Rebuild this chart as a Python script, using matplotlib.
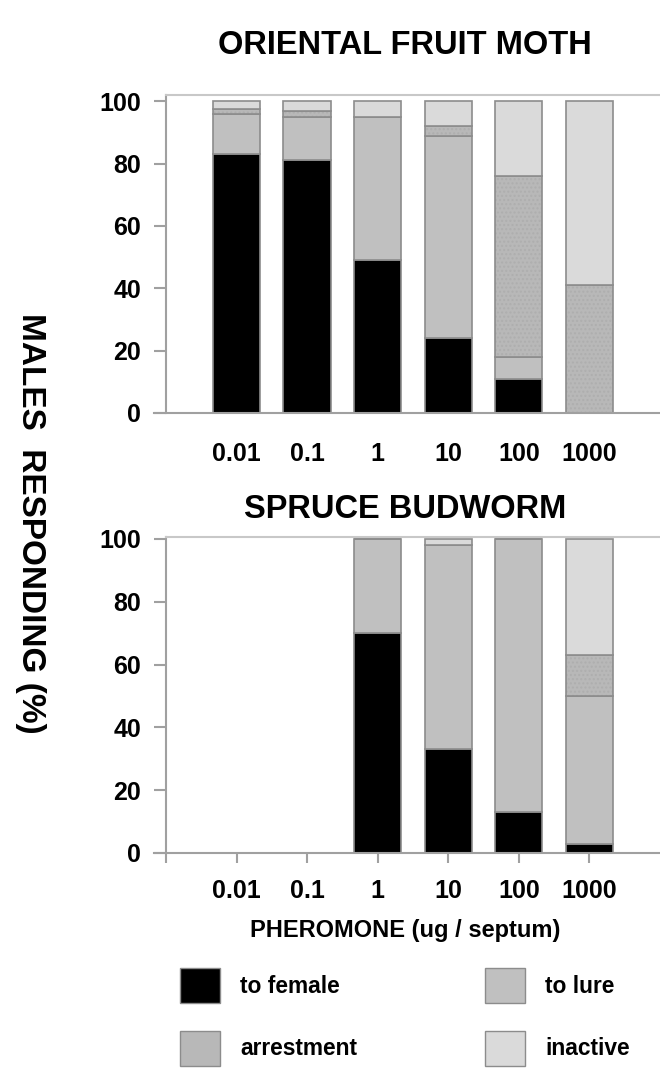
import matplotlib
matplotlib.use("Agg")
import matplotlib.pyplot as plt
from matplotlib.patches import Patch
import numpy as np

plt.rcParams['font.family'] = ['Liberation Sans', 'DejaVu Sans']
plt.rcParams['font.weight'] = 'bold'

doses = ['0.01', '0.1', '1', '10', '100', '1000']

# oriental fruit moth (%)
ofm_female = [83, 81, 49, 24, 11, 0]
ofm_lure = [13, 14, 46, 65, 7, 0]
ofm_arrest = [1.5, 2, 0, 3, 58, 41]
ofm_inactive = [2.5, 3, 5, 8, 24, 59]

# spruce budworm (%)
sbw_female = [0, 0, 70, 33, 13, 3]
sbw_lure = [0, 0, 30, 65, 87, 47]
sbw_arrest = [0, 0, 0, 0, 0, 13]
sbw_inactive = [0, 0, 0, 2, 0, 37]

c_female = 'black'
c_lure = '#c0c0c0'
c_arrest = '#b8b8b8'
c_inactive = '#dadada'
c_edge = '#8c8c8c'
c_axis = '#a0a0a0'


def stacked(ax, female, lure, arrest, inactive):
    x = np.arange(1, len(doses) + 1)
    w = 0.67
    b = np.zeros(len(doses))
    for vals, col in [(female, c_female), (lure, c_lure),
                      (arrest, c_arrest), (inactive, c_inactive)]:
        vals = np.array(vals, dtype=float)
        if col == c_arrest:
            # faint stipple texture like the scanned fill
            ax.bar(x, vals, w, bottom=b, color=col, edgecolor='#aeaeae',
                   hatch='....', linewidth=0)
            ax.bar(x, vals, w, bottom=b, fill=False, edgecolor=c_edge,
                   linewidth=1.2)
        else:
            ax.bar(x, vals, w, bottom=b, color=col, edgecolor=c_edge,
                   linewidth=1.2)
        b = b + vals


def style(ax, ytop, xticks):
    ax.set_xlim(-0.17, 7.0)
    ax.set_ylim(0, ytop)
    ax.spines['left'].set_position(('data', 0))
    ax.spines['right'].set_visible(False)
    ax.spines['top'].set_bounds(0, 7.0)
    for s in ['left', 'bottom', 'top']:
        ax.spines[s].set_color(c_axis)
        ax.spines[s].set_linewidth(1.5)
    ax.spines['top'].set_color('#c8c8c8')
    ax.set_yticks([0, 20, 40, 60, 80, 100])
    ax.tick_params(axis='y', length=9, width=1.5, color=c_axis, pad=9,
                   labelsize=18)
    if xticks:
        ax.set_xticks(np.arange(0, 7))
        ax.set_xticklabels([''] + doses)
        ax.tick_params(axis='x', length=7, width=1.5, color=c_axis, pad=12,
                       labelsize=18)
    else:
        ax.set_xticks(np.arange(1, 7))
        ax.set_xticklabels(doses)
        ax.tick_params(axis='x', length=0, pad=21, labelsize=18)


fig = plt.figure(figsize=(6.6, 10.68), dpi=100)
W, H = 660.0, 1068.0

ax1 = fig.add_axes([154 / W, 1 - 413 / H, 506 / W, 318 / H])
stacked(ax1, ofm_female, ofm_lure, ofm_arrest, ofm_inactive)
style(ax1, 102, False)

ax2 = fig.add_axes([154 / W, 1 - 853 / H, 506 / W, 316 / H])
stacked(ax2, sbw_female, sbw_lure, sbw_arrest, sbw_inactive)
style(ax2, 100.6, True)

fig.text(405 / W, 1 - 45 / H, 'ORIENTAL FRUIT MOTH', ha='center',
         va='center', fontsize=23.5)
fig.text(405 / W, 1 - 509 / H, 'SPRUCE BUDWORM', ha='center',
         va='center', fontsize=23.5)
fig.text(30 / W, 1 - 523 / H, 'MALES  RESPONDING (%)', rotation=270,
         ha='center', va='center', fontsize=24)
fig.text(405 / W, 1 - 931 / H, 'PHEROMONE (ug / septum)', ha='center',
         va='center', fontsize=17)

handles = [Patch(facecolor=c_female, edgecolor=c_edge, label='to female'),
           Patch(facecolor=c_arrest, edgecolor=c_edge, label='arrestment'),
           Patch(facecolor=c_lure, edgecolor=c_edge, label='to lure'),
           Patch(facecolor=c_inactive, edgecolor=c_edge, label='inactive')]
fig.legend(handles=handles, ncol=2, loc='upper left',
           bbox_to_anchor=(180 / W, 1 - 968 / H), frameon=False,
           fontsize=16.4, handlelength=1.75, handleheight=2.0,
           handletextpad=0.9, columnspacing=5.6, labelspacing=1.2,
           borderpad=0, borderaxespad=0)

fig.savefig('out.png', dpi=100)
